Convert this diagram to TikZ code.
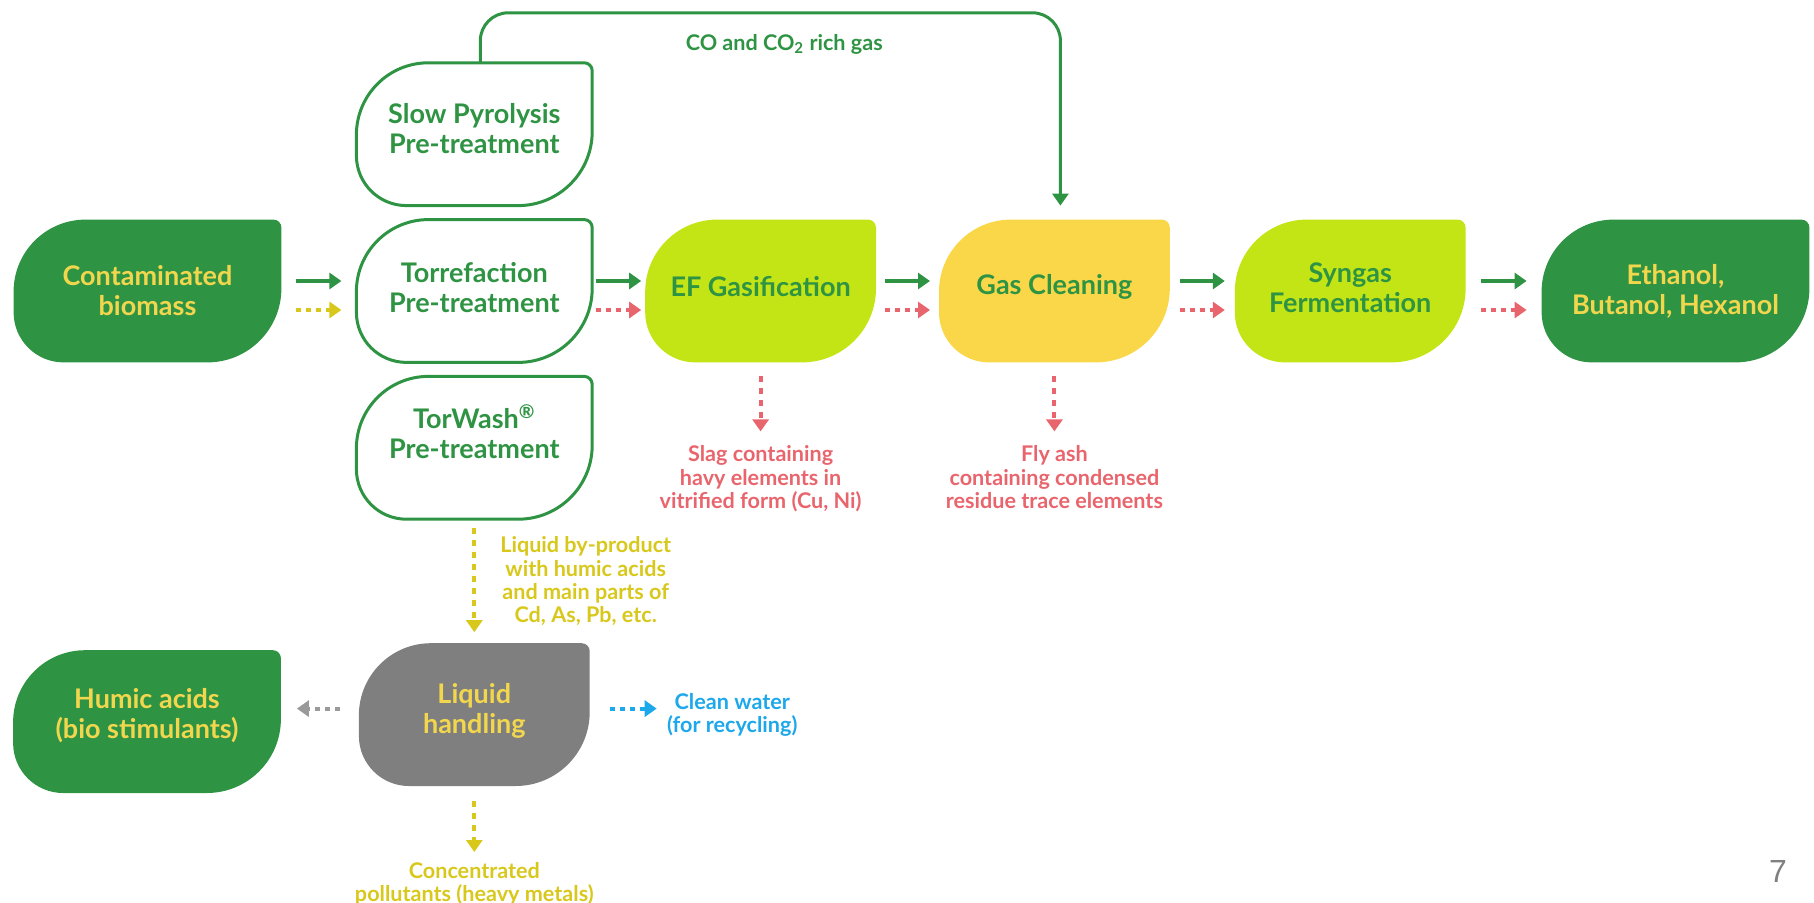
\documentclass[tikz,border=0pt]{standalone}
\usepackage{fontspec}
\setmainfont{Lato}
\newfontfamily\pagefont{Liberation Sans}
\usepackage{tikz}
\usetikzlibrary{arrows.meta,positioning,backgrounds}
\definecolor{leafgreen}{HTML}{2E9443}
\definecolor{leafyellow}{HTML}{F2D74E}
\definecolor{limefill}{HTML}{C3E516}
\definecolor{gasfill}{HTML}{FAD749}
\definecolor{liqgray}{HTML}{7F7F7F}
\definecolor{slagred}{HTML}{E9656D}
\definecolor{byyellow}{HTML}{D8C81C}
\definecolor{waterblue}{HTML}{1CA8EA}
\definecolor{backgray}{HTML}{9A9A9A}

\begin{document}
\begin{tikzpicture}[
  box/.style={minimum height=71pt, inner sep=0pt, align=center, font=\fontsize{13.5}{15}\selectfont\bfseries},
  endbox/.style={box, minimum width=133.5pt, text=leafyellow},
  prebox/.style={box, minimum width=117.5pt, text=leafgreen},
  procbox/.style={box, minimum width=115pt, text=leafgreen},
  note/.style={inner sep=0pt, align=center, font=\fontsize{10.8}{11.6}\selectfont\bfseries},
  leaf/.style={insert path={([yshift=-36pt]#1.north west) arc[start angle=180, end angle=90, radius=36pt]
    -- ([xshift=-4pt]#1.north east) arc[start angle=90, end angle=0, radius=4pt]
    -- ([yshift=37pt]#1.south east) arc[start angle=0, end angle=-90, radius=37pt]
    -- ([xshift=25pt]#1.south west) arc[start angle=270, end angle=180, radius=25pt] -- cycle}},
  outline/.style={fill=white, draw=leafgreen, line width=1.5pt},
  arr/.style={-{Triangle[length=6pt, width=8pt]}, line width=2pt},
  dots/.style={arr, dash pattern=on 2.5pt off 2.5pt},
  dashes/.style={arr, dash pattern=on 3pt off 3pt}
]
  \useasboundingbox (0,0) rectangle (907pt,-451.5pt);

  % main line
  \node[endbox] (bio) at (73.75pt,-145.5pt) {Contaminated\\biomass};
  \node[prebox, right=37.5pt of bio, text depth=3.5pt] (tor) {Torrefaction\\Pre-treatment};
  \node[prebox, above=7pt of tor, text depth=6pt] (slow) {Slow Pyrolysis\\Pre-treatment};
  \node[prebox, below=7pt of tor, text depth=16pt] (tw) {TorWash\textsuperscript{®}\\Pre-treatment};
  \node[procbox, right=26.5pt of tor, text depth=4.5pt] (ef) {EF Gasification};
  \node[procbox, right=31.5pt of ef, text depth=7pt] (gc) {Gas Cleaning};
  \node[procbox, right=32.5pt of gc, text depth=3.5pt] (syn) {Syngas\\Fermentation};
  \node[endbox, right=38pt of syn] (eth) {Ethanol,\\Butanol, Hexanol};

  % liquid side
  \node[endbox, text=leafyellow, minimum width=115pt, below=62pt of tw, text depth=6.5pt] (liq) {Liquid\\handling};
  \node[endbox, left=39pt of liq, yshift=-3.5pt, text depth=8pt] (hum) {Humic acids\\(bio stimulants)};
  \node[note, text=waterblue, right=38.5pt of liq] (water) {Clean water\\(for recycling)};
  \node[note, text=byyellow, below=38pt of liq] (conc) {Concentrated\\pollutants (heavy metals)};

  % residues
  \node[note, text=slagred, below=41.5pt of ef] (slag) {Slag containing\\havy elements in\\vitrified form (Cu, Ni)};
  \node[note, text=slagred, below=41.5pt of gc] (ash) {Fly ash\\containing condensed\\residue trace elements};

  \node[font=\pagefont\fontsize{16}{16}\selectfont, text=gray] (page) at (889pt,-435.5pt) {7};

  \begin{scope}[on background layer]
    \path[fill=leafgreen] [leaf=bio];
    \path[fill=leafgreen] [leaf=eth];
    \path[fill=leafgreen] [leaf=hum];
    \path[outline] [leaf=slow];
    \path[outline] [leaf=tor];
    \path[outline] [leaf=tw];
    \path[fill=limefill] [leaf=ef];
    \path[fill=gasfill] [leaf=gc];
    \path[fill=limefill] [leaf=syn];
    \path[fill=liqgray] [leaf=liq];
  \end{scope}

  \draw[arr, leafgreen, shorten <=7.5pt, shorten >=7.5pt] ([yshift=5pt]bio.east) -- ([yshift=5pt]tor.west);
  \draw[dots, byyellow, shorten <=7.5pt, shorten >=7.5pt] ([yshift=-9.5pt]bio.east) -- ([yshift=-9.5pt]tor.west);
  \draw[arr, leafgreen, shorten <=2pt, shorten >=2pt] ([yshift=5pt]tor.east) -- ([yshift=5pt]ef.west);
  \draw[dots, slagred, shorten <=2pt, shorten >=2pt] ([yshift=-9.5pt]tor.east) -- ([yshift=-9.5pt]ef.west);
  \draw[arr, leafgreen, shorten <=4.5pt, shorten >=4.5pt] ([yshift=5pt]ef.east) -- ([yshift=5pt]gc.west);
  \draw[dots, slagred, shorten <=4.5pt, shorten >=4.5pt] ([yshift=-9.5pt]ef.east) -- ([yshift=-9.5pt]gc.west);
  \draw[arr, leafgreen, shorten <=5pt, shorten >=5pt] ([yshift=5pt]gc.east) -- ([yshift=5pt]syn.west);
  \draw[dots, slagred, shorten <=5pt, shorten >=5pt] ([yshift=-9.5pt]gc.east) -- ([yshift=-9.5pt]syn.west);
  \draw[arr, leafgreen, shorten <=7.5pt, shorten >=7.5pt] ([yshift=5pt]syn.east) -- ([yshift=5pt]eth.west);
  \draw[dots, slagred, shorten <=7.5pt, shorten >=7.5pt] ([yshift=-9.5pt]syn.east) -- ([yshift=-9.5pt]eth.west);

  % gas bypass
  \draw[leafgreen, line width=1.5pt, -{Triangle[length=6pt, width=8pt]}, rounded corners=14pt, shorten >=7pt]
    ([xshift=3pt]slow.north) -- ++(0,25pt) -| node[pos=0.262, below=10pt, note, text=leafgreen] (gaslbl) {CO and CO\textsubscript{2} rich gas} ([xshift=3pt]gc.north);

  \draw[dashes, slagred, shorten <=7pt, shorten >=7pt] (ef) -- (slag);
  \draw[dashes, slagred, shorten <=7pt, shorten >=7pt] (gc) -- (ash);

  \draw[dashes, byyellow, shorten <=4.5pt, shorten >=5.5pt] (tw) -- node[note, right=12pt] (byprod) {Liquid by-product\\with humic acids\\and main parts of\\Cd, As, Pb, etc.} (liq);
  \draw[dots, backgray, shorten <=9.5pt, shorten >=8pt] ([yshift=3pt]liq.west) -- ([yshift=6.5pt]hum.east);
  \draw[dots, waterblue, shorten <=10pt, shorten >=5pt] ([yshift=3pt]liq.east) -- ([yshift=3pt]water.west);
  \draw[dashes, byyellow, shorten <=7.5pt, shorten >=5pt] (liq) -- (conc);
\end{tikzpicture}
\end{document}
